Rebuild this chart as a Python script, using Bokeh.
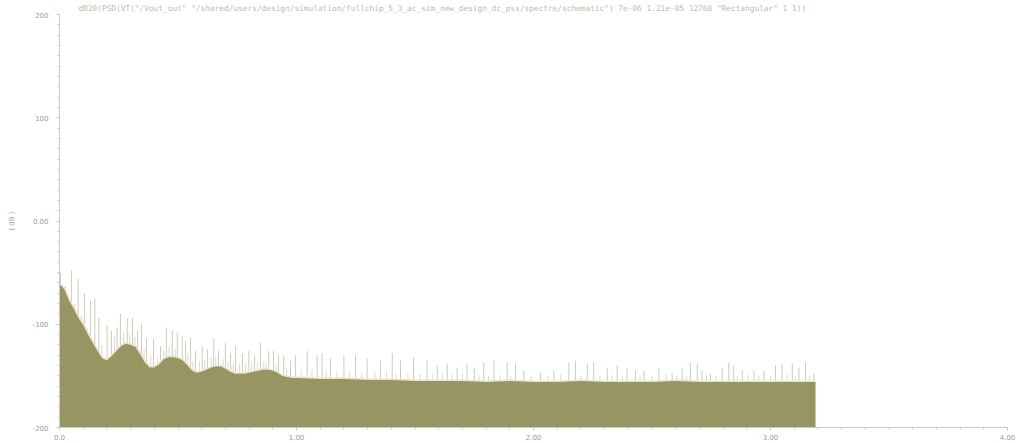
from bokeh.plotting import figure
from bokeh.models import Range1d, FixedTicker
from bokeh.embed import file_html
from bokeh.resources import INLINE

# Frequency axis (MHz-like units) and noise floor of the spectrum (dB)
floor_freq = [
    0.00, 0.02, 0.04, 0.06, 0.08, 0.10, 0.12, 0.14, 0.16, 0.18,
    0.20, 0.22, 0.24, 0.26, 0.28, 0.30, 0.32, 0.34, 0.36, 0.38,
    0.40, 0.42, 0.44, 0.46, 0.48, 0.50, 0.52, 0.54, 0.56, 0.58,
    0.60, 0.62, 0.64, 0.66, 0.68, 0.70, 0.72, 0.74, 0.76, 0.78,
    0.80, 0.82, 0.84, 0.86, 0.88, 0.90, 0.92, 0.94, 0.96, 0.98,
    1.00, 1.10, 1.20, 1.30, 1.40, 1.50, 1.60, 1.70, 1.80, 1.90,
    2.00, 2.10, 2.20, 2.30, 2.40, 2.50, 2.60, 2.70, 2.80, 2.90,
    3.00, 3.10, 3.19,
]
floor_db = [
    -61, -66, -77, -85, -94, -101, -110, -118, -126, -133,
    -135, -131, -126, -121, -119, -120, -122, -129, -137, -142,
    -142, -139, -134, -132, -132, -133, -135, -140, -145, -147,
    -146, -144, -142, -141, -141, -143, -146, -148, -148, -148,
    -147, -146, -145, -144, -144, -145, -147, -150, -151, -152,
    -152, -153, -153, -154, -154, -155, -155, -155, -156, -155,
    -156, -156, -155, -156, -156, -156, -155, -156, -156, -156,
    -156, -156, -156,
]

# Spurious tones rising above the floor
spur_freq = [
    0.004, 0.025, 0.051, 0.079, 0.105, 0.131, 0.149, 0.166, 0.201, 0.219,
    0.243, 0.257, 0.286, 0.308, 0.329, 0.346, 0.367, 0.397, 0.426, 0.451,
    0.476, 0.497, 0.518, 0.532, 0.553, 0.574, 0.602, 0.624, 0.651, 0.671,
    0.700, 0.722, 0.743, 0.772, 0.799, 0.823, 0.848, 0.883, 0.903, 0.924,
    0.946, 0.975, 0.996, 1.045, 1.087, 1.108, 1.143, 1.200, 1.249, 1.298,
    1.354, 1.404, 1.439, 1.494, 1.551, 1.594, 1.636, 1.678, 1.720, 1.750,
    1.790, 1.833, 1.889, 1.924, 1.959, 2.030, 2.086, 2.149, 2.177, 2.227,
    2.254, 2.311, 2.353, 2.395, 2.430, 2.466, 2.529, 2.585, 2.627, 2.662,
    2.691, 2.711, 2.747, 2.796, 2.824, 2.845, 2.881, 2.930, 2.972, 3.021,
    3.049, 3.092, 3.120, 3.148, 3.183,
]
spur_db = [
    -50, -63, -48, -56, -70, -77, -75, -94, -101, -106,
    -103, -90, -94, -94, -106, -100, -114, -114, -121, -103,
    -106, -108, -112, -116, -113, -126, -121, -124, -114, -126,
    -118, -128, -121, -128, -126, -130, -118, -126, -126, -130,
    -130, -135, -130, -126, -130, -128, -133, -130, -130, -133,
    -135, -128, -135, -132, -135, -140, -138, -142, -138, -142,
    -137, -135, -137, -138, -145, -147, -145, -137, -135, -138,
    -137, -142, -140, -143, -145, -145, -143, -147, -142, -137,
    -138, -145, -148, -142, -137, -140, -145, -145, -145, -140,
    -138, -138, -142, -137, -148,
]

# Lower, fainter tones scattered along the floor
minor_spur_freq = [
    0.035, 0.065, 0.092, 0.118, 0.178, 0.232, 0.270, 0.296, 0.318, 0.357,
    0.385, 0.414, 0.440, 0.463, 0.488, 0.541, 0.563, 0.590, 0.613, 0.640,
    0.660, 0.690, 0.711, 0.733, 0.760, 0.786, 0.811, 0.836, 0.862, 0.872,
    0.914, 0.958, 1.020, 1.065, 1.125, 1.170, 1.225, 1.275, 1.330, 1.380,
    1.420, 1.470, 1.520, 1.575, 1.615, 1.655, 1.700, 1.770, 1.810, 1.860,
    1.905, 1.990, 2.060, 2.115, 2.200, 2.280, 2.330, 2.375, 2.450, 2.500,
    2.560, 2.605, 2.645, 2.730, 2.770, 2.860, 2.905, 2.950, 3.000, 3.070,
    3.105, 3.165,
]
minor_spur_db = [
    -72, -80, -92, -104, -120, -112, -108, -110, -112, -124,
    -130, -132, -126, -122, -124, -128, -136, -136, -134, -132,
    -132, -134, -136, -138, -138, -138, -136, -136, -136, -138,
    -140, -142, -144, -144, -145, -146, -145, -147, -146, -146,
    -148, -147, -148, -149, -148, -149, -148, -149, -150, -149,
    -150, -150, -150, -149, -150, -150, -149, -150, -150, -150,
    -149, -150, -150, -149, -150, -150, -149, -150, -150, -149,
    -150, -150,
]

x_ticks = [0, 1, 2, 3, 4]
x_tick_labels = {0: "0.0", 1: "1.00", 2: "2.00", 3: "3.00", 4: "4.00"}
y_ticks = [-200, -100, 0, 100, 200]
y_tick_labels = {-200: "-200", -100: "-100", 0: "0.00", 100: "100", 200: "200"}

expr_text = ('dB20(PSD(VT("/Vout_out" "/shared/users/design/simulation/'
             'fullchip_5_3_ac_sim_new_design_dc_pss/spectre/schematic") '
             '7e-06 1.21e-05 32768 "Rectangular" 1 1))')

FILL = "#979561"
SPUR = "#c4c3ad"
FRINGE = "#e6e5cc"
AXIS = "#c9cbcf"
TEXT = "#9a9a9a"

p = figure(width=1016, height=443, output_backend="svg", toolbar_location=None,
           x_range=Range1d(0, 4), y_range=Range1d(-200, 200),
           min_border_left=59, min_border_right=9, min_border_top=13,
           min_border_bottom=16)
p.background_fill_color = "white"
p.border_fill_color = "white"
p.outline_line_color = None
p.grid.visible = False

# expression caption along the top edge of the frame
p.title.text = expr_text
p.title.align = "left"
p.title.offset = 19
p.title.standoff = 3
p.title.text_font = "DejaVu Sans Mono"
p.title.text_font_size = "7.8px"
p.title.text_font_style = "normal"
p.title.text_color = "#bcbcaa"

# spurs drawn from the bottom; the floor fill covers their lower part
p.segment(x0=minor_spur_freq, y0=[-200] * len(minor_spur_freq),
          x1=minor_spur_freq, y1=minor_spur_db,
          line_color=SPUR, line_width=1, line_alpha=0.6)
p.segment(x0=spur_freq, y0=[-200] * len(spur_freq), x1=spur_freq, y1=spur_db,
          line_color=SPUR, line_width=1, line_alpha=0.85)
p.line(floor_freq, floor_db, line_color=FRINGE, line_width=3)
p.varea(x=floor_freq, y1=[-200] * len(floor_freq), y2=floor_db, fill_color=FILL)

for ax in (p.xaxis[0], p.yaxis[0]):
    ax.axis_line_color = AXIS
    ax.major_tick_line_color = AXIS
    ax.minor_tick_line_color = AXIS
    ax.major_tick_in = 0
    ax.minor_tick_in = 0
    ax.major_tick_out = 3
    ax.minor_tick_out = 2
    ax.major_label_text_color = TEXT
    ax.major_label_text_font = "DejaVu Sans"
    ax.major_label_text_font_size = "7px"

p.xaxis.ticker = FixedTicker(ticks=x_ticks,
                             minor_ticks=[i / 10 for i in range(0, 41)])
p.xaxis.major_label_overrides = x_tick_labels
p.xaxis.major_label_standoff = 3

p.yaxis.ticker = FixedTicker(ticks=y_ticks,
                             minor_ticks=list(range(-200, 201, 10)))
p.yaxis.major_label_overrides = y_tick_labels
p.yaxis.major_label_standoff = 8
p.yaxis.axis_label = "( dB )"
p.yaxis.axis_label_text_font = "DejaVu Sans"
p.yaxis.axis_label_text_font_size = "7px"
p.yaxis.axis_label_text_font_style = "normal"
p.yaxis.axis_label_text_color = TEXT
p.yaxis.axis_label_standoff = 14

open("out.html", "w").write(file_html(p, INLINE))
